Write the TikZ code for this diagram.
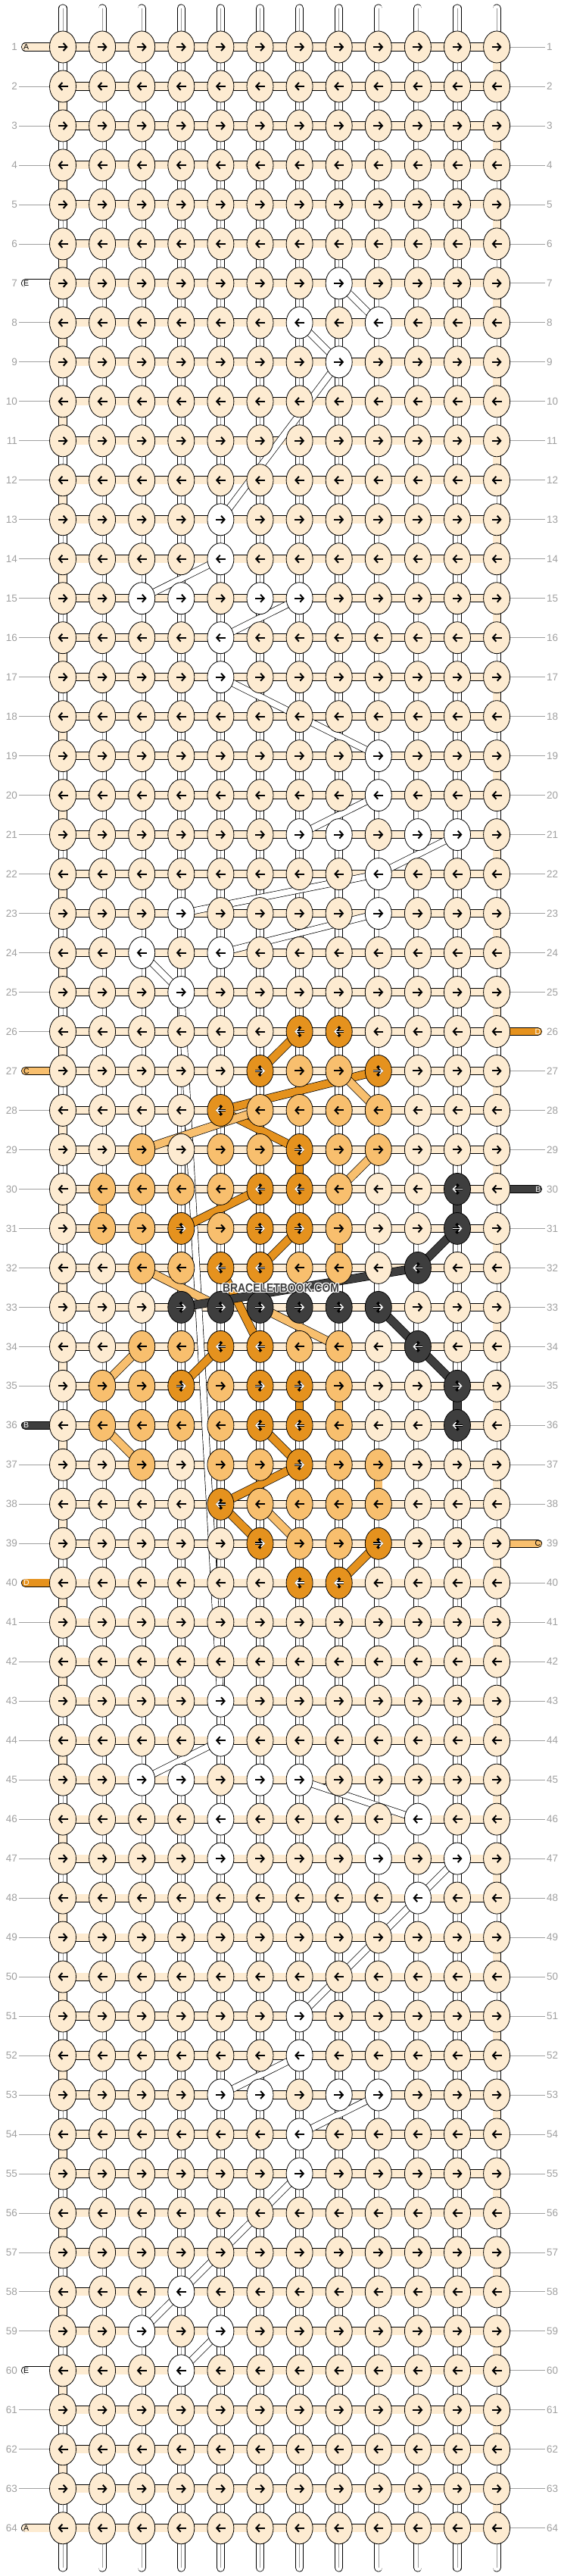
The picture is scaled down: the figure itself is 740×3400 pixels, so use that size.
\documentclass[tikz,border=0pt]{standalone}
\usepackage{fontspec}
\setmainfont{Liberation Sans}
\usetikzlibrary{shapes.geometric,arrows.meta}
\pgfdeclarelayer{warp}
\pgfdeclarelayer{weft}
\pgfdeclarelayer{carry}
\pgfsetlayers{warp,weft,carry,main}

\definecolor{thrA}{RGB}{253,235,209}
\definecolor{thrB}{RGB}{62,62,62}
\definecolor{thrC}{RGB}{248,191,110}
\definecolor{thrD}{RGB}{229,146,30}
\definecolor{thrE}{RGB}{255,255,255}
\definecolor{rowgray}{RGB}{160,160,160}

% knots that do not show thread A
\newcommand{\knotcol}[2]{\foreach \k in {#2}{\expandafter\xdef\csname kc\k\endcsname{#1}}}
\knotcol{E}{7-8,8-7,8-9,9-8,13-5,14-5,15-3,15-4,15-6,15-7,16-5,17-5,19-9,20-9,21-7,21-8,21-10,21-11,22-9,23-4,23-9,24-3,24-5,25-4,
  43-5,44-5,45-3,45-4,45-6,45-7,46-5,46-10,47-5,47-9,47-11,48-10,51-7,52-7,53-5,53-6,53-8,53-9,54-7,55-7,58-4,59-3,59-5,60-4}
\knotcol{C}{27-7,27-8,28-6,28-7,28-8,28-9,29-3,29-5,29-6,29-8,29-9,30-2,30-3,30-4,30-5,30-8,31-2,31-3,31-5,31-8,32-3,32-4,32-7,32-8,
  34-3,34-4,34-7,34-8,35-2,35-3,35-5,35-8,36-2,36-3,36-4,36-5,36-8,37-3,37-5,37-6,37-8,37-9,38-6,38-7,38-8,38-9,39-7,39-8}
\knotcol{D}{26-7,26-8,27-6,27-9,28-5,29-7,30-6,30-7,31-4,31-6,31-7,32-5,32-6,34-5,34-6,35-4,35-6,35-7,36-6,36-7,37-7,38-5,39-6,39-9,40-7,40-8}
\knotcol{B}{30-11,31-11,32-10,33-4,33-5,33-6,33-7,33-8,33-9,34-10,35-11,36-11}
% rows with a thread end instead of a guide line
\newcommand{\markrow}[2]{\foreach \k in {#2}{\expandafter\xdef\csname #1\k\endcsname{1}}}
\markrow{pl}{1,7,27,36,40,60,64}
\markrow{pr}{26,30,39}

\tikzset{
  knot/.style={ellipse,draw=black,line width=0.8pt,minimum width=35pt,minimum height=42pt,inner sep=0pt},
  knotA/.style={knot,fill=thrA},
  knotB/.style={knot,fill=thrB},
  knotC/.style={knot,fill=thrC},
  knotD/.style={knot,fill=thrD},
  knotE/.style={knot,fill=thrE},
  arrK/.style={line width=2pt,-{Straight Barb[length=4.5pt,width=10pt]}},
  arrO/.style={line width=3.6pt,-{Straight Barb[length=5.5pt,width=12.5pt]}},
  arrW/.style={white,line width=1.5pt,-{Straight Barb[length=4pt,width=8.5pt]}},
  warpthr/.style={draw=black,line width=0.8pt,double=white,double distance=9.5pt,line cap=round},
  warpmid/.style={draw=black!40,line width=0.6pt},
  weftthr/.style={draw=black,line width=0.8pt,double=thrA,double distance=9.5pt},
  turnseg/.style={draw=black,line width=0.8pt,double=#1,double distance=9.5pt},
  whitethr/.style={draw=black,line width=0.7pt,double=white,double distance=8pt},
  colthr/.style={draw=black,line width=0.7pt,double=#1,double distance=10pt},
  pill/.style={draw=black,line width=0.8pt,double=#1,double distance=9.5pt,line cap=round},
  rowno/.style={text=rowgray,font=\fontsize{13.5}{14}\selectfont,inner sep=2pt},
  rowline/.style={draw=rowgray,line width=0.8pt},
  pilltxt/.style={font=\fontsize{10.5}{11}\selectfont,inner sep=0pt},
  marktxt/.style={font=\bfseries\fontsize{16}{16}\selectfont,xscale=0.87,inner sep=0pt}
}

\begin{document}
\begin{tikzpicture}[x=1pt,y=-1pt]
\useasboundingbox (0,0) rectangle (740,3400);
\begin{pgfonlayer}{warp}
\fill[white] (0,0) rectangle (740,3400);
\end{pgfonlayer}

% knots at depth 0:
\foreach \rw in {1,...,64}{
  \foreach \cl in {1,...,12}{
    \ifcsname kc\rw-\cl\endcsname\edef\kc{\csname kc\rw-\cl\endcsname}\else\def\kc{A}\fi
    \node[knot\kc] (k-\rw-\cl) at ({83+52.1*(\cl-1)},{62+51.98*(\rw-1)}) {};
    \ifodd\rw\def\xa{-6.5pt}\def\xb{6.5pt}\else\def\xa{6.5pt}\def\xb{-6.5pt}\fi
    \def\wa{0}\if\kc B\def\wa{1}\fi\if\kc D\def\wa{1}\fi
    \ifnum\wa=1
      \draw[arrO] ([xshift=\xa]k-\rw-\cl.center) -- ([xshift=\xb]k-\rw-\cl.center);
      \draw[arrW] ([xshift=\xa]k-\rw-\cl.center) -- ([xshift=\xb]k-\rw-\cl.center);
    \else
      \draw[arrK] ([xshift=\xa]k-\rw-\cl.center) -- ([xshift=\xb]k-\rw-\cl.center);
    \fi
  }
}

% warp threads at depth 30:
\begin{pgfonlayer}{warp}
\foreach \cl in {1,...,12}{
  \coordinate (top-\cl) at ({83+52.1*(\cl-1)},11);
  \coordinate (bot-\cl) at ({83+52.1*(\cl-1)},3389);
  \draw[warpthr] (top-\cl) -- (bot-\cl);
  \draw[warpmid] (top-\cl) -- (bot-\cl);
}
\end{pgfonlayer}

% working thread at depth 20:
\begin{pgfonlayer}{weft}
\foreach \rw in {1,...,64}
  \draw[weftthr] (k-\rw-1.center) -- (k-\rw-12.center);
\foreach \rw in {1,...,63}{
  \pgfmathtruncatemacro\nx{\rw+1}
  \ifodd\rw
    \draw[turnseg=thrA] (k-\rw-12.center) -- (k-\nx-12.center);
  \else
    \draw[turnseg=thrA] (k-\rw-1.center) -- (k-\nx-1.center);
  \fi
}
\foreach \a/\b in {29-7/30-7,35-7/36-7}
  \draw[turnseg=thrD] (k-\a.center) -- (k-\b.center);
\foreach \a/\b in {30-2/31-2,31-8/32-8,35-8/36-8,37-9/38-9}
  \draw[turnseg=thrC] (k-\a.center) -- (k-\b.center);
\foreach \a/\b in {30-11/31-11,35-11/36-11}
  \draw[turnseg=thrB] (k-\a.center) -- (k-\b.center);
\foreach \rw/\cc in {1/thrA,7/thrE,27/thrC,36/thrB,40/thrD,60/thrE,64/thrA}{
  \coordinate (pe-\rw) at (33.5,{62+51.98*(\rw-1)});
  \draw[pill=\cc] (pe-\rw) -- (k-\rw-1.center);
}
\foreach \rw/\cc in {26/thrD,30/thrB,39/thrC}{
  \coordinate (pe-\rw) at (710.5,{62+51.98*(\rw-1)});
  \draw[pill=\cc] (pe-\rw) -- (k-\rw-12.center);
}
\end{pgfonlayer}

% moved threads at depth 10:
\begin{pgfonlayer}{carry}
\foreach \a/\b in {7-8/8-9,8-7/9-8,9-8/13-5,14-5/15-3,15-7/16-5,17-5/19-9,20-9/21-7,21-11/22-9,22-9/23-4,23-9/24-5,24-3/25-4,25-4/43-5,
  44-5/45-3,45-7/46-10,47-11/48-10,48-10/51-7,52-7/53-5,53-9/54-7,55-7/58-4,58-4/59-3,59-5/60-4}
  \draw[whitethr] (k-\a.center) -- (k-\b.center);
\foreach \a/\b in {27-6/26-7,28-5/27-9,28-5/29-7,30-6/31-4,31-7/32-6,32-5/34-6,34-5/35-4,36-6/37-7,37-7/38-5,38-5/39-6,39-9/40-8}
  \draw[colthr=thrD] (k-\a.center) -- (k-\b.center);
\foreach \a/\b in {27-8/28-9,29-3/28-6,29-9/30-8,32-3/33-5,33-6/34-8,34-3/35-2,36-2/37-3,38-6/39-7}
  \draw[colthr=thrC] (k-\a.center) -- (k-\b.center);
\foreach \a/\b in {31-11/32-10,32-10/33-4,33-9/34-10,34-10/35-11}
  \draw[colthr=thrB] (k-\a.center) -- (k-\b.center);
\end{pgfonlayer}

% row numbers and thread names:
\foreach \rw in {1,...,64}{
  \node[rowno,anchor=east] (nl-\rw) at (25,{62+51.98*(\rw-1)}) {\rw};
  \node[rowno,anchor=west] (nr-\rw) at (720,{62+51.98*(\rw-1)}) {\rw};
  \ifcsname pl\rw\endcsname\else\draw[rowline] (nl-\rw) -- (k-\rw-1);\fi
  \ifcsname pr\rw\endcsname\else\draw[rowline] (k-\rw-12) -- (nr-\rw);\fi
}
\foreach \rw/\lt/\tc in {1/A/black,7/E/black,27/C/black,36/B/white,40/D/white,60/E/black,64/A/black}
  \node[pilltxt,text=\tc,anchor=west] (pt-\rw) at (31,{62+51.98*(\rw-1)}) {\lt};
\foreach \rw/\lt/\tc in {26/D/white,30/B/white,39/C/black}
  \node[pilltxt,text=\tc,anchor=east] (pt-\rw) at (714.5,{62+51.98*(\rw-1)}) {\lt};

% watermark with a white rim
\foreach \dx/\dy in {-1.2/0,1.2/0,0/-1.2,0/1.2,-0.9/-0.9,0.9/0.9,-0.9/0.9,0.9/-0.9}
  \node[marktxt,text=white] at ({371+\dx},{1700+\dy}) {BRACELETBOOK.COM};
\node[marktxt,text=thrB] (mark) at (371,1700) {BRACELETBOOK.COM};

\end{tikzpicture}
\end{document}
